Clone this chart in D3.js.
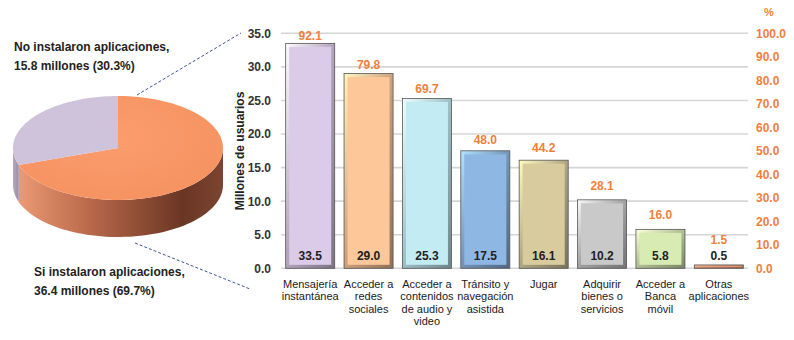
<!DOCTYPE html>
<html><head><meta charset="utf-8">
<script src="https://cdn.jsdelivr.net/npm/d3@7"></script>
<style>
body{margin:0;background:#fff;}
svg{display:block;font-family:"Liberation Sans",Arial,sans-serif;}
</style></head>
<body><svg id="c" width="794" height="340"></svg>
<script>
// ---- data ----
const categories = [
  ["Mensajería","instantánea"],
  ["Acceder a","redes","sociales"],
  ["Acceder a","contenidos","de audio y","video"],
  ["Tránsito y","navegación","asistida"],
  ["Jugar"],
  ["Adquirir","bienes o","servicios"],
  ["Acceder a","Banca","móvil"],
  ["Otras","aplicaciones"]
];
const usersMillions = [33.5, 29.0, 25.3, 17.5, 16.1, 10.2, 5.8, 0.5];
const percentUsers = [92.1, 79.8, 69.7, 48.0, 44.2, 28.1, 16.0, 1.5];
const barColors = ["#dccbe8","#fdc79a","#c2ebf4","#8fb7e4","#d8cc9e","#c9c9c9","#d8ebb3","#f4a27c"];
const leftTicks = [0,5,10,15,20,25,30,35];
const rightTicks = [0,10,20,30,40,50,60,70,80,90,100];
const pieLabels = ["Si instalaron aplicaciones,","No instalaron aplicaciones,"];
const pieValues = [36.4, 15.8];
const piePercents = ["69.7%","30.3%"];
const pieColors = ["#f99b6c","#cec3da"];

const svg = d3.select("#c");
const defs = svg.append("defs");

// ---- bar chart ----
const x = d3.scaleBand().domain(d3.range(categories.length)).range([281,748]).paddingInner(0.16).paddingOuter(0.08);
const y = d3.scaleLinear().domain([0,35]).range([268.3,33.3]);
const y2 = d3.scaleLinear().domain([0,100]).range([268.3,33.3]);

// gridlines
svg.append("g").selectAll("line").data(leftTicks).join("line")
  .attr("x1",281).attr("x2",748).attr("y1",d=>y(d)).attr("y2",d=>y(d))
  .attr("stroke","#d6d6d6").attr("stroke-width",1.6);

// left axis
const la = svg.append("g").attr("transform","translate(271,0)")
  .call(d3.axisLeft(y).tickValues(leftTicks).tickFormat(d3.format(".1f")).tickSize(0).tickPadding(0));
la.select(".domain").remove();
la.selectAll("text").attr("font-size",12).attr("font-weight","bold").attr("fill","#333").attr("font-family","Liberation Sans, Arial, sans-serif");

// right axis
const ra = svg.append("g").attr("transform","translate(756,0)")
  .call(d3.axisRight(y2).tickValues(rightTicks).tickFormat(d3.format(".1f")).tickSize(0).tickPadding(0));
ra.select(".domain").remove();
ra.selectAll("text").attr("font-size",12).attr("font-weight","bold").attr("fill","#f07f3c").attr("font-family","Liberation Sans, Arial, sans-serif");
svg.append("text").attr("x",769).attr("y",16).attr("text-anchor","middle")
  .attr("font-size",11).attr("font-weight","bold").attr("fill","#f07f3c").text("%");

// y title
svg.append("text").attr("transform","translate(244,151) rotate(-90)").attr("text-anchor","middle")
  .attr("font-size",12).attr("font-weight","bold").attr("fill","#222").text("Millones de usuarios");

// bars with bevel
const bars = svg.append("g").selectAll("g").data(usersMillions).join("g");
bars.each(function(v,i){
  const g = d3.select(this);
  const c = d3.color(barColors[i]);
  const bx = x(i), bw = x.bandwidth(), by = y(v), bh = y(0)-y(v);
  const gid = "bg"+i;
  const lg = defs.append("linearGradient").attr("id",gid).attr("x1",0).attr("y1",0).attr("x2",1).attr("y2",1);
  lg.append("stop").attr("offset","0%").attr("stop-color",c.brighter(0.6));
  lg.append("stop").attr("offset","50%").attr("stop-color",c.darker(0.6));
  lg.append("stop").attr("offset","100%").attr("stop-color",c.darker(1.6));
  g.append("rect").attr("x",bx).attr("y",by).attr("width",bw).attr("height",bh)
    .attr("fill",`url(#${gid})`).attr("stroke","#555").attr("stroke-width",0.8);
  const ins = Math.min(3.5, bh/2.5);
  if (bh > 2*ins) {
    g.append("rect").attr("x",bx+ins).attr("y",by+ins).attr("width",bw-2*ins).attr("height",bh-2*ins)
      .attr("fill",barColors[i]);
  }
});

// value labels (near bar base)
svg.append("g").selectAll("text").data(usersMillions).join("text")
  .attr("x",(d,i)=>x(i)+x.bandwidth()/2)
  .attr("y",d=>y(0)-8)
  .attr("text-anchor","middle").attr("font-size",12).attr("font-weight","bold").attr("fill","#222")
  .text(d=>d3.format(".1f")(d));

// percent labels
svg.append("g").selectAll("text").data(percentUsers).join("text")
  .attr("x",(d,i)=>x(i)+x.bandwidth()/2)
  .attr("y",d=>Math.min(y2(d)-12, y(0)-24))
  .attr("text-anchor","middle").attr("font-size",12).attr("font-weight","bold").attr("fill","#f07f3c")
  .text(d=>d3.format(".1f")(d));

// category labels
const cl = svg.append("g").selectAll("text").data(categories).join("text")
  .attr("x",(d,i)=>x(i)+x.bandwidth()/2).attr("y",288)
  .attr("text-anchor","middle").attr("font-size",11).attr("fill","#1a1a1a");
cl.each(function(lines){
  const t = d3.select(this);
  lines.forEach((s,k)=>t.append("tspan").attr("x",t.attr("x")).attr("dy",k===0?0:12.3).text(s));
});

// ---- 3D pie ----
const cx=118, cy=148, rx=105, ry=52, h=37;
const pie = d3.pie().sort(null).startAngle(0).endAngle(2*Math.PI)(pieValues);
function pt(a, dy){ return [cx + rx*Math.sin(a), cy - ry*Math.cos(a) + (dy||0)]; }

const sg = defs.append("linearGradient").attr("id","side").attr("x1",0).attr("x2",1).attr("y1",0).attr("y2",0);
sg.append("stop").attr("offset","0%").attr("stop-color","#eb9a74");
sg.append("stop").attr("offset","35%").attr("stop-color","#b9684a");
sg.append("stop").attr("offset","80%").attr("stop-color","#6a3624");
sg.append("stop").attr("offset","100%").attr("stop-color","#7a4430");
const sgp = defs.append("linearGradient").attr("id","sidep").attr("x1",0).attr("x2",1).attr("y1",0).attr("y2",0);
sgp.append("stop").attr("offset","0%").attr("stop-color","#b7aac2");
sgp.append("stop").attr("offset","100%").attr("stop-color","#9a8ca6");

// sides (visible portion: angles between PI/2 and 3PI/2)
pie.forEach((s,i)=>{
  const a0 = Math.max(s.startAngle, Math.PI/2), a1 = Math.min(s.endAngle, 3*Math.PI/2);
  if (a1 <= a0) return;
  const n = 60, top=[], bot=[];
  for(let k=0;k<=n;k++){ const a=a0+(a1-a0)*k/n; top.push(pt(a,0)); bot.push(pt(a,h)); }
  const pts = top.concat(bot.reverse());
  svg.append("path").attr("d", d3.line()(pts)+"Z")
    .attr("fill", i===0 ? "url(#side)" : "url(#sidep)");
});

// top faces
const tg = defs.append("radialGradient").attr("id","topo").attr("cx","45%").attr("cy","40%").attr("r","70%");
tg.append("stop").attr("offset","0%").attr("stop-color","#fb9d6e");
tg.append("stop").attr("offset","100%").attr("stop-color","#f5915f");
pie.forEach((s,i)=>{
  const n = 80, pts=[[cx,cy]];
  for(let k=0;k<=n;k++){ const a=s.startAngle+(s.endAngle-s.startAngle)*k/n; pts.push(pt(a,0)); }
  svg.append("path").attr("d", d3.line()(pts)+"Z")
    .attr("fill", i===0 ? "url(#topo)" : pieColors[1]);
});

// dashed connector lines
const dl = svg.append("g").attr("stroke","#3d5590").attr("stroke-width",1).attr("stroke-dasharray","3,2").attr("fill","none");
dl.append("line").attr("x1",137).attr("y1",95).attr("x2",241).attr("y2",33);
dl.append("line").attr("x1",135).attr("y1",243).attr("x2",250).attr("y2",289);

// pie labels
function pieLabel(xx, yy, i){
  const t = svg.append("text").attr("x",xx).attr("y",yy).attr("font-size",12).attr("font-weight","bold").attr("fill","#222");
  t.append("tspan").attr("x",xx).text(pieLabels[i]);
  t.append("tspan").attr("x",xx).attr("dy",19).text(`${pieValues[i].toFixed(1)} millones (${piePercents[i]})`);
}
pieLabel(14, 51, 1);
pieLabel(34, 276, 0);
</script></body></html>
